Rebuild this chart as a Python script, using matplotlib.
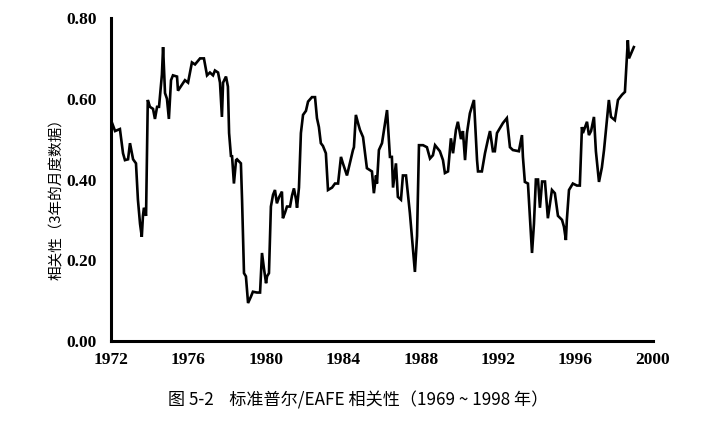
import matplotlib
matplotlib.use("Agg")
import matplotlib.pyplot as plt
import numpy as np

# S&P / EAFE rolling 3-year correlation
years = [1972.00, 1972.21, 1972.46, 1972.62, 1972.72, 1972.88, 1972.98, 1973.14, 1973.29,
         1973.39, 1973.50, 1973.59, 1973.65, 1973.70, 1973.81, 1973.90, 1974.01, 1974.17,
         1974.27, 1974.38, 1974.48, 1974.63, 1974.69, 1974.79, 1974.89, 1974.99, 1975.10,
         1975.20, 1975.41, 1975.46, 1975.67, 1975.82, 1975.98, 1976.18, 1976.34, 1976.60,
         1976.80, 1976.96, 1977.11, 1977.27, 1977.37, 1977.53, 1977.63, 1977.73, 1977.79,
         1977.94, 1978.04, 1978.10, 1978.20, 1978.25, 1978.35, 1978.46, 1978.51, 1978.71,
         1978.77, 1978.87, 1978.97, 1979.08, 1979.23, 1979.33, 1979.54, 1979.70, 1979.80,
         1979.90, 1980.01, 1980.06, 1980.16, 1980.26, 1980.37, 1980.47, 1980.57, 1980.68,
         1980.83, 1980.88, 1980.99, 1981.09, 1981.25, 1981.35, 1981.45, 1981.56, 1981.61,
         1981.71, 1981.81, 1981.92, 1982.07, 1982.18, 1982.38, 1982.54, 1982.64, 1982.74,
         1982.84, 1982.95, 1983.10, 1983.21, 1983.42, 1983.57, 1983.73, 1983.88, 1983.98,
         1984.19, 1984.29, 1984.50, 1984.55, 1984.65, 1984.76, 1984.86, 1985.02, 1985.22,
         1985.48, 1985.58, 1985.69, 1985.74, 1985.84, 1986.00, 1986.26, 1986.41, 1986.51,
         1986.57, 1986.72, 1986.82, 1986.98, 1987.08, 1987.24, 1987.44, 1987.70, 1987.81,
         1987.91, 1988.12, 1988.32, 1988.48, 1988.63, 1988.74, 1988.99, 1989.15, 1989.25,
         1989.41, 1989.56, 1989.67, 1989.82, 1989.92, 1990.08, 1990.18, 1990.29, 1990.39,
         1990.54, 1990.75, 1990.91, 1990.96, 1991.16, 1991.32, 1991.47, 1991.58, 1991.73,
         1991.83, 1991.94, 1992.09, 1992.25, 1992.45, 1992.61, 1992.76, 1993.07, 1993.23,
         1993.28, 1993.38, 1993.54, 1993.75, 1993.85, 1993.95, 1994.06, 1994.16, 1994.27,
         1994.42, 1994.57, 1994.78, 1994.93, 1995.09, 1995.30, 1995.40, 1995.50, 1995.55,
         1995.66, 1995.86, 1996.07, 1996.22, 1996.33, 1996.38, 1996.59, 1996.69, 1996.80,
         1996.95, 1997.05, 1997.21, 1997.36, 1997.47, 1997.62, 1997.72, 1997.83, 1998.03,
         1998.19, 1998.40, 1998.55, 1998.70, 1998.76, 1998.91, 1999.01]

corr = [0.547, 0.520, 0.525, 0.465, 0.448, 0.450, 0.490, 0.450, 0.440,
        0.350, 0.290, 0.258, 0.310, 0.330, 0.310, 0.597, 0.580, 0.575,
        0.550, 0.580, 0.580, 0.660, 0.728, 0.614, 0.600, 0.550, 0.646,
        0.658, 0.655, 0.620, 0.635, 0.646, 0.640, 0.690, 0.685, 0.700,
        0.700, 0.658, 0.665, 0.658, 0.670, 0.665, 0.640, 0.555, 0.640,
        0.655, 0.630, 0.515, 0.456, 0.460, 0.390, 0.448, 0.450, 0.440,
        0.350, 0.168, 0.160, 0.094, 0.110, 0.122, 0.120, 0.120, 0.218,
        0.180, 0.143, 0.160, 0.168, 0.333, 0.362, 0.374, 0.341, 0.356,
        0.370, 0.304, 0.318, 0.333, 0.333, 0.360, 0.378, 0.350, 0.330,
        0.380, 0.515, 0.560, 0.570, 0.593, 0.604, 0.604, 0.552, 0.530,
        0.490, 0.483, 0.465, 0.374, 0.380, 0.390, 0.390, 0.456, 0.440,
        0.410, 0.430, 0.473, 0.480, 0.560, 0.540, 0.523, 0.505, 0.428,
        0.420, 0.366, 0.410, 0.390, 0.473, 0.490, 0.572, 0.456, 0.456,
        0.380, 0.440, 0.357, 0.350, 0.410, 0.410, 0.317, 0.171, 0.260,
        0.485, 0.485, 0.480, 0.452, 0.460, 0.485, 0.470, 0.448, 0.416,
        0.420, 0.502, 0.465, 0.523, 0.543, 0.500, 0.520, 0.448, 0.515,
        0.564, 0.597, 0.448, 0.420, 0.420, 0.465, 0.498, 0.520, 0.470,
        0.470, 0.515, 0.527, 0.540, 0.552, 0.480, 0.473, 0.470, 0.510,
        0.456, 0.394, 0.390, 0.218, 0.290, 0.400, 0.400, 0.330, 0.395,
        0.395, 0.304, 0.374, 0.366, 0.310, 0.300, 0.283, 0.250, 0.300,
        0.374, 0.390, 0.385, 0.385, 0.530, 0.515, 0.543, 0.510, 0.520,
        0.555, 0.470, 0.394, 0.430, 0.473, 0.547, 0.597, 0.555, 0.547,
        0.597, 0.610, 0.617, 0.745, 0.700, 0.717, 0.728]

xticks = [1972, 1976, 1980, 1984, 1988, 1992, 1996, 2000]
yticks = [0.0, 0.2, 0.4, 0.6, 0.8]

fig = plt.figure(figsize=(7.27, 4.24), dpi=100)
ax = fig.add_axes([0.1527, 0.1958, 0.7455, 0.7617])

ax.plot(years, corr, color="black", lw=1.9, solid_joinstyle="miter")

ax.set_xlim(1972, 2000)
ax.set_ylim(0, 0.8)
ax.set_xticks(xticks)
ax.set_yticks(yticks)
ax.set_yticklabels([f"{v:.2f}" for v in yticks])
ax.tick_params(length=0, labelsize=12.5)
ax.tick_params(axis="x", pad=8)
ax.tick_params(axis="y", pad=10)
for lab in ax.get_xticklabels() + ax.get_yticklabels():
    lab.set_fontfamily("Liberation Serif")
    lab.set_fontweight("bold")

for s in ["top", "right"]:
    ax.spines[s].set_visible(False)
for s in ["left", "bottom"]:
    ax.spines[s].set_linewidth(2.2)

ax.set_ylabel("相关性（3年的月度数据）", family=["Noto Sans CJK SC", "DejaVu Sans"],
              fontsize=10.5, fontweight="medium")
ax.yaxis.set_label_coords(-0.087, 0.45)

fig.text(0.492, 0.055, "图 5-2    标准普尔/EAFE 相关性（1969 ~ 1998 年）",
         family=["Noto Sans CJK SC", "DejaVu Sans"], fontsize=12.3,
         ha="center", va="center")

fig.savefig("out.png", dpi=100)
